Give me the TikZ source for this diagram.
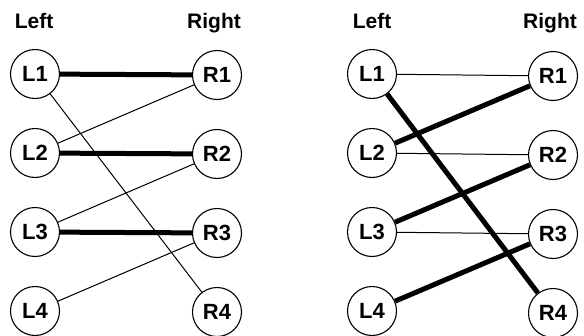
\documentclass[tikz,border=0pt]{standalone}
\usepackage{fontspec}
\setmainfont{Liberation Sans}
\usepackage{tikz}

\begin{document}
\begin{tikzpicture}[x=1pt,y=-1pt,node distance=79pt,thin,
  main node/.style={circle,draw,line width=1.1pt,minimum size=49pt,inner sep=0pt,font=\fontsize{22}{26}\selectfont\bfseries},
  side label/.style={anchor=base,font=\fontsize{21}{25}\selectfont\bfseries},
  match/.style={line width=5pt},
  plain/.style={line width=1pt}]
  \useasboundingbox (0,0) rectangle (584,335);

  % first matching
  \node[side label] (aleft) at (34,28) {Left};
  \node[side label] (aright) at (214,28) {Right};
  \node[main node] (aL1) at (35,74) {L1};
  \node[main node] (aL2) [below of=aL1] {L2};
  \node[main node] (aL3) [below of=aL2] {L3};
  \node[main node] (aL4) [below of=aL3] {L4};
  \node[main node] (aR1) at (217,75) {R1};
  \node[main node] (aR2) [below of=aR1] {R2};
  \node[main node] (aR3) [below of=aR2] {R3};
  \node[main node] (aR4) [below of=aR3] {R4};

  \path
    (aL1) edge [match] (aR1)
          edge [plain] (aR4)
    (aL2) edge [match] (aR2)
          edge [plain] (aR1)
    (aL3) edge [match] (aR3)
          edge [plain] (aR2)
    (aL4) edge [plain] (aR3);

  % second matching
  \node[side label] (bleft) at (372,28) {Left};
  \node[side label] (bright) at (550,28) {Right};
  \node[main node] (bL1) at (372,74) {L1};
  \node[main node] (bL2) [below of=bL1] {L2};
  \node[main node] (bL3) [below of=bL2] {L3};
  \node[main node] (bL4) [below of=bL3] {L4};
  \node[main node] (bR1) at (553,76) {R1};
  \node[main node] (bR2) [below of=bR1] {R2};
  \node[main node] (bR3) [below of=bR2] {R3};
  \node[main node] (bR4) [below of=bR3] {R4};

  \path
    (bL1) edge [plain] (bR1)
          edge [match] (bR4)
    (bL2) edge [plain] (bR2)
          edge [match] (bR1)
    (bL3) edge [plain] (bR3)
          edge [match] (bR2)
    (bL4) edge [match] (bR3);
\end{tikzpicture}
\end{document}
